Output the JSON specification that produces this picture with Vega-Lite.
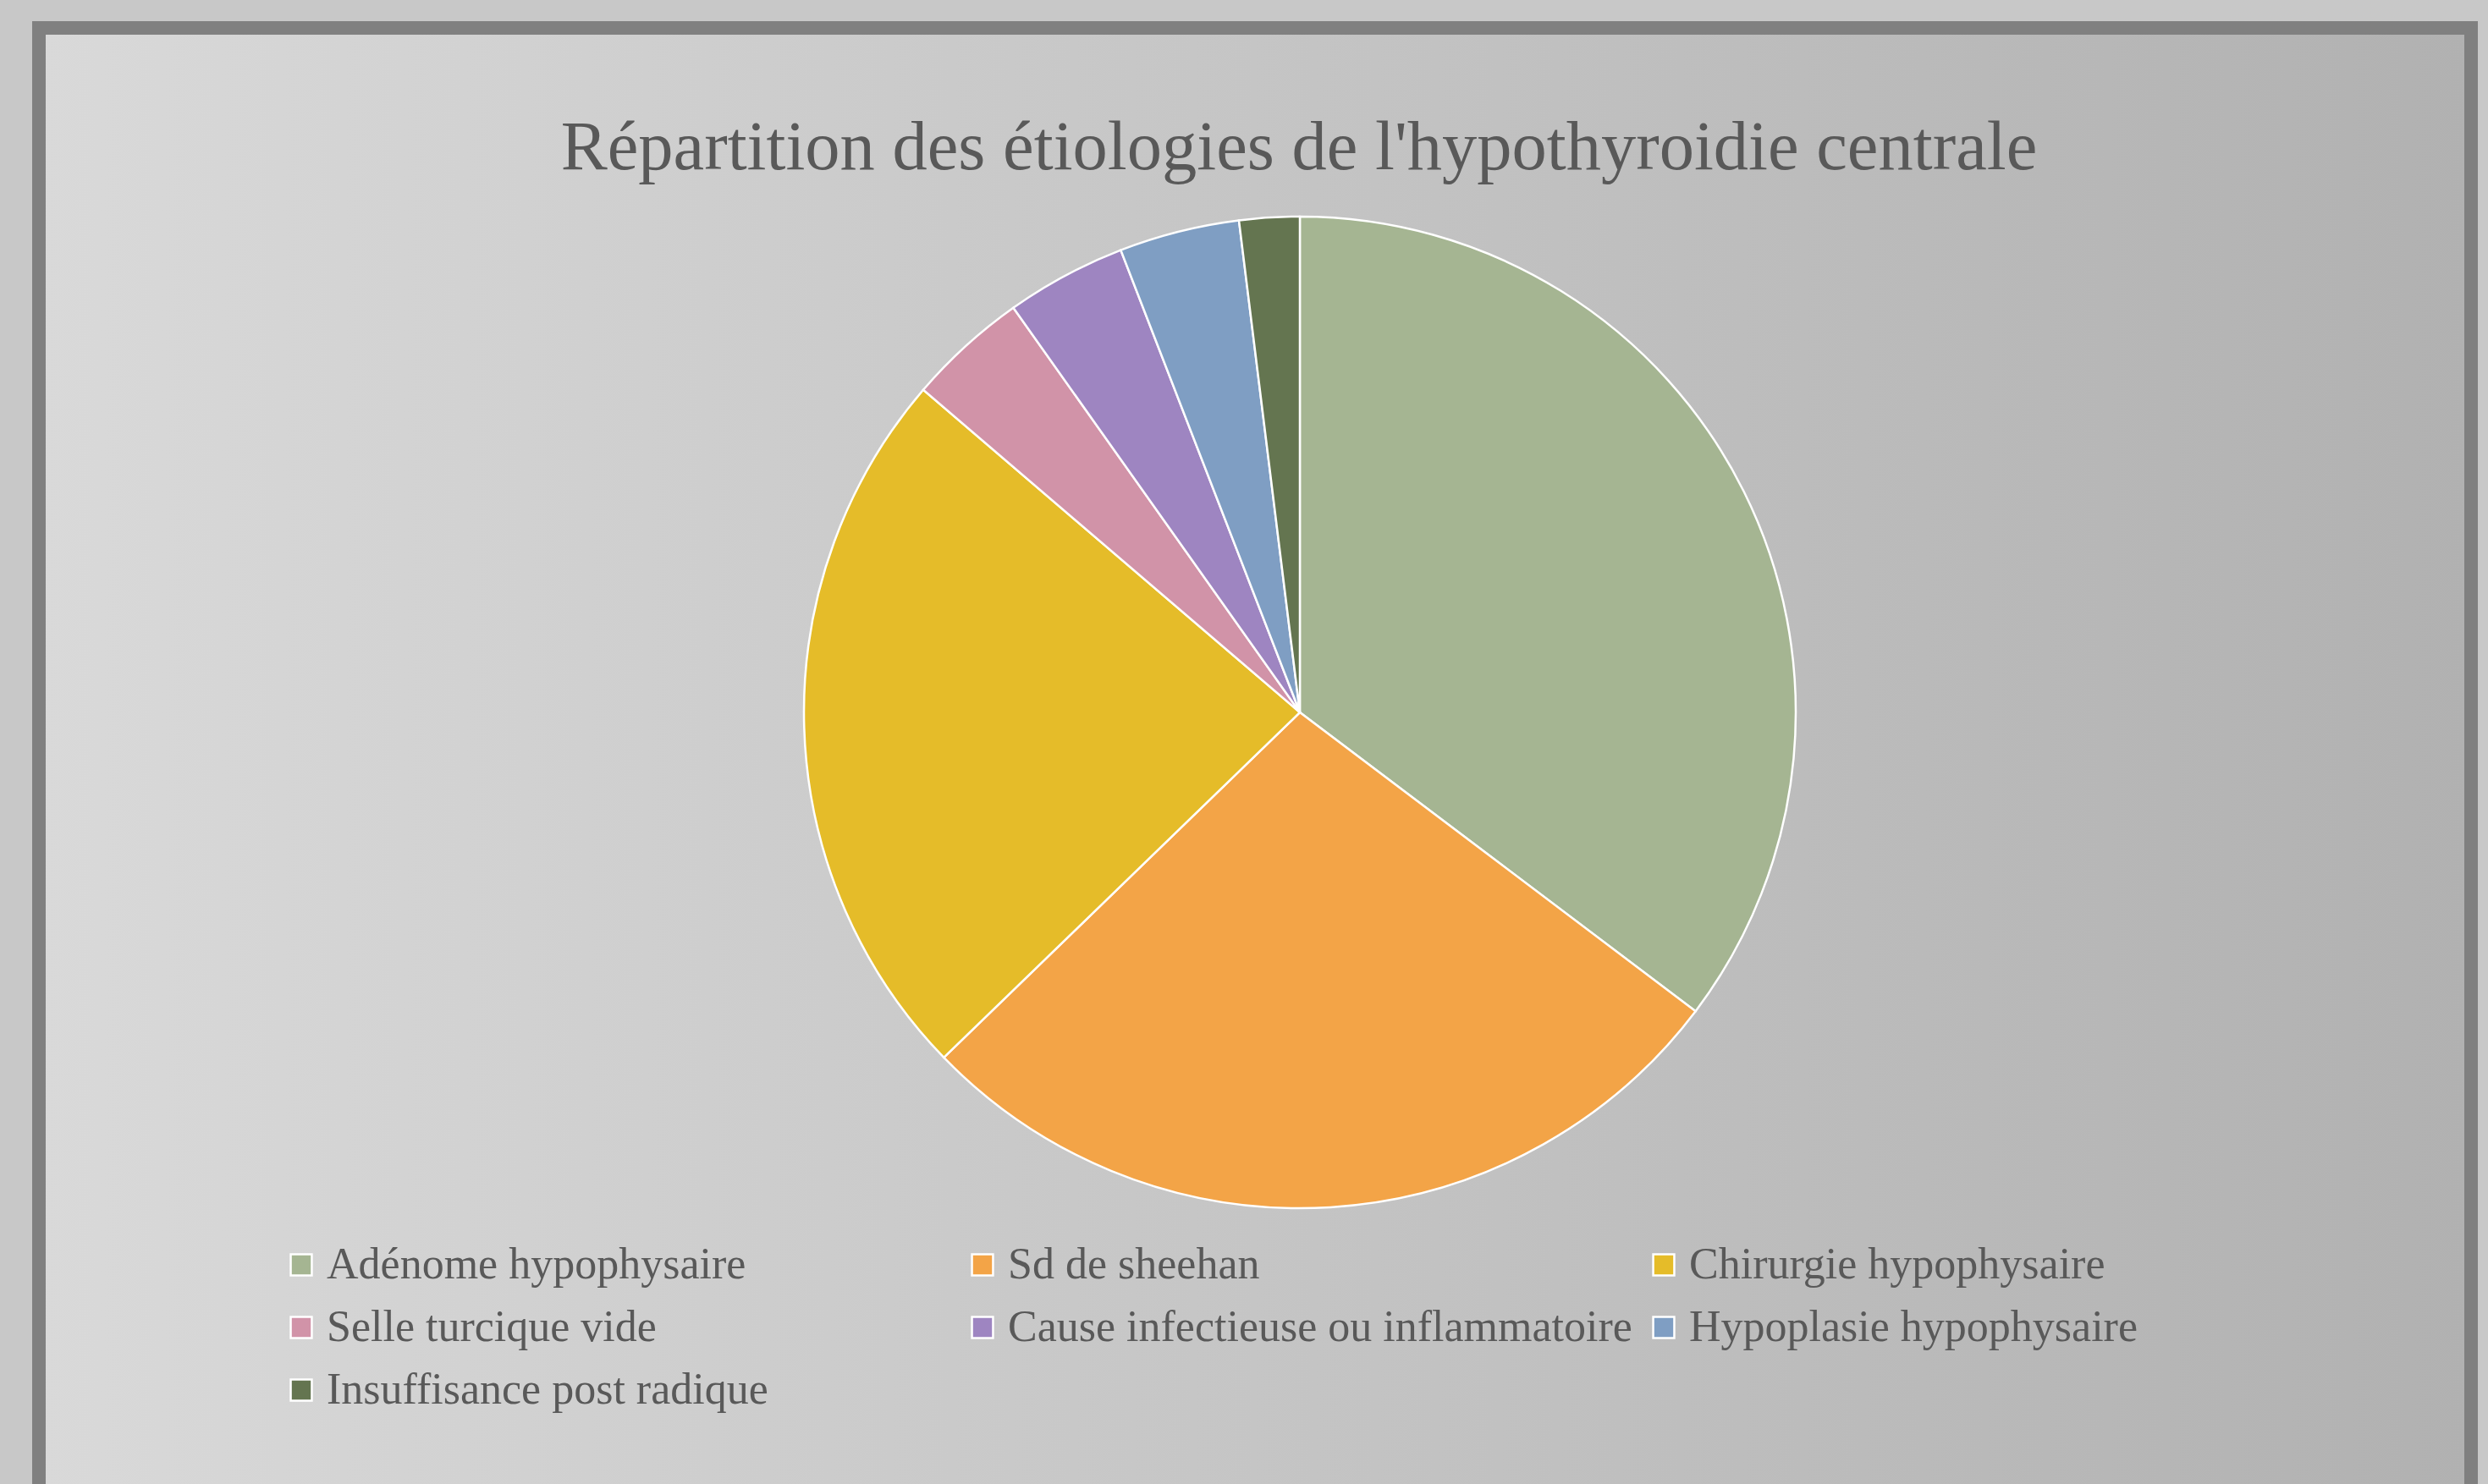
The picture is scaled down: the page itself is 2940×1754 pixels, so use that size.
{
  "$schema": "https://vega.github.io/schema/vega-lite/v6.json",
  "autosize": "none",
  "width": 2874,
  "height": 1760,
  "padding": {"left": 46, "top": 33, "right": 20, "bottom": 0},
  "background": "#c8c8c8",
  "view": {
    "stroke": "#808080",
    "strokeWidth": 16,
    "fill": {"expr": "{gradient: 'linear', x1: 0, y1: 0, x2: 1, y2: 0, stops: [{offset: 0, color: '#d9d9d9'}, {offset: 1, color: '#b1b1b1'}]}"}
  },
  "title": {
    "text": "Répartition des étiologies de l'hypothyroidie centrale",
    "font": "Liberation Serif",
    "fontSize": 82.5,
    "fontWeight": "normal",
    "color": "#595959",
    "anchor": "middle",
    "orient": "top",
    "baseline": "alphabetic",
    "offset": 0,
    "dx": 52,
    "dy": 249
  },
  "data": {
    "values": [
      {"etiologie": "Adénome hypophysaire", "n": 18},
      {"etiologie": "Sd de sheehan", "n": 14},
      {"etiologie": "Chirurgie hypophysaire", "n": 12},
      {"etiologie": "Selle turcique vide", "n": 2},
      {"etiologie": "Cause infectieuse ou inflammatoire", "n": 2},
      {"etiologie": "Hypoplasie hypophysaire", "n": 2},
      {"etiologie": "Insuffisance post radique", "n": 1}
    ]
  },
  "mark": {
    "type": "arc",
    "outerRadius": 586,
    "stroke": "white",
    "strokeWidth": 2.5,
    "x": {"expr": "width/2 + 53"},
    "y": {"expr": "height/2 - 71"}
  },
  "encoding": {
    "theta": {"field": "n", "type": "quantitative", "stack": true},
    "order": {"field": "n", "type": "quantitative", "sort": "descending"},
    "color": {
      "field": "etiologie",
      "type": "nominal",
      "scale": {
        "domain": ["Adénome hypophysaire", "Sd de sheehan", "Chirurgie hypophysaire", "Selle turcique vide", "Cause infectieuse ou inflammatoire", "Hypoplasie hypophysaire", "Insuffisance post radique"],
        "range": ["#A5B592", "#F3A447", "#E5BC29", "#D193A8", "#9E85C1", "#7F9EC3", "#647550"]
      },
      "legend": {
        "orient": "none",
        "direction": "horizontal",
        "legendX": 284,
        "legendY": 1436,
        "columns": 3,
        "gridAlign": "all",
        "columnPadding": 11,
        "rowPadding": 22,
        "padding": 0,
        "title": null,
        "symbolType": "square",
        "symbolSize": 620,
        "symbolStrokeColor": "white",
        "symbolStrokeWidth": 2.5,
        "symbolOpacity": 1,
        "labelFont": "Liberation Serif",
        "labelFontSize": 52,
        "labelColor": "#595959",
        "labelOffset": 4,
        "labelLimit": 0,
        "labelBaseline": "middle"
      }
    }
  }
}
